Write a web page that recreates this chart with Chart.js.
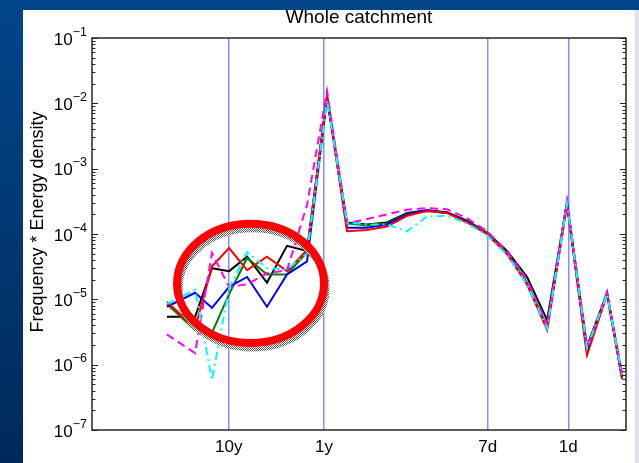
<!DOCTYPE html>
<html>
<head>
<meta charset="utf-8">
<script src="https://cdn.jsdelivr.net/npm/chart.js@4.4.1/dist/chart.umd.min.js"></script>
<style>
  html, body { margin: 0; padding: 0; }
  body {
    width: 639px; height: 463px; overflow: hidden; position: relative;
    background: linear-gradient(180deg, #02458a 0%, #013a74 45%, #00295a 100%);
  }
  #panel { position: absolute; left: 23px; top: 10px; width: 612px; height: 453px; background: #fff; }
  #edge { position: absolute; left: 635px; top: 10px; width: 5px; height: 453px; background: #dde5ef; }
  #chart { position: absolute; left: 0; top: 0; }
</style>
</head>
<body>
<div id="panel"></div>
<div id="edge"></div>
<canvas id="chart" width="639" height="463"></canvas>
<script>
// ── DATA ─────────────────────────────────────────────────────
// frequency in cycles per year
const freq = [0.0225, 0.0444, 0.0668, 0.101, 0.156, 0.252, 0.409, 0.664, 1.075, 1.74, 2.83, 4.58,
  7.43, 12.0, 19.5, 31.6, 51.3, 83.2, 135, 219, 354, 574, 931, 1337]

const black = [5.4e-6, 5.4e-6, 3.0e-5, 2.7e-5, 4.5e-5, 1.8e-5, 6.6e-5, 5.5e-5, 1.25e-2, 1.5e-4, 1.4e-4, 1.5e-4,
  2.1e-4, 2.3e-4, 2.15e-4, 1.6e-4, 1.05e-4, 5.5e-5, 2.2e-5, 4.8e-6, 3.0e-4, 1.9e-6, 1.25e-5, 7.0e-7]
const green = [8.5e-6, 3.4e-6, 3.1e-6, 1.2e-5, 4.3e-5, 2.4e-5, 2.4e-5, 5.3e-5, 1.25e-2, 1.45e-4, 1.35e-4, 1.45e-4,
  2.05e-4, 2.25e-4, 2.1e-4, 1.55e-4, 1.05e-4, 5.2e-5, 1.8e-5, 3.8e-6, 3.0e-4, 1.6e-6, 1.25e-5, 6.5e-7]
const blue = [7.7e-6, 1.26e-5, 7.4e-6, 1.55e-5, 2.2e-5, 7.7e-6, 2.4e-5, 3.8e-5, 1.2e-2, 1.25e-4, 1.25e-4, 1.4e-4,
  2.0e-4, 2.3e-4, 2.1e-4, 1.55e-4, 1.0e-4, 5.0e-5, 1.7e-5, 3.6e-6, 2.9e-4, 1.5e-6, 1.2e-5, 6.3e-7]
const red = [9.2e-6, 3.6e-6, 3.2e-5, 6.1e-5, 2.8e-5, 4.5e-5, 2.7e-5, 5.7e-5, 1.35e-2, 1.1e-4, 1.15e-4, 1.3e-4,
  1.9e-4, 2.25e-4, 2.1e-4, 1.5e-4, 1.0e-4, 5.0e-5, 1.7e-5, 3.4e-6, 2.8e-4, 1.4e-6, 1.2e-5, 6.0e-7]
const magenta = [2.9e-6, 1.5e-6, 5.1e-5, 1.55e-5, 1.7e-5, 2.5e-5, 2.8e-5, 2.8e-4, 1.55e-2, 1.45e-4, 1.7e-4, 2.0e-4,
  2.35e-4, 2.5e-4, 2.4e-4, 1.75e-4, 1.1e-4, 5.5e-5, 2.0e-5, 4.0e-6, 3.3e-4, 1.8e-6, 1.3e-5, 7.0e-7]
const cyan = [8.5e-6, 1.4e-5, 5.8e-7, 1.5e-5, 5.3e-5, 3.0e-5, 2.9e-5, 5.0e-5, 1.1e-2, 1.5e-4, 1.4e-4, 1.4e-4,
  1.1e-4, 1.85e-4, 1.9e-4, 1.45e-4, 9.5e-5, 4.8e-5, 1.7e-5, 3.6e-6, 2.9e-4, 1.8e-6, 1.2e-5, 7.0e-7]

// period markers (cycles per year) and their labels
const xTicks = [0.1, 1, 365.25 / 7, 365.25]
const xTickLabels = ['10y', '1y', '7d', '1d']
const yExponents = [-7, -6, -5, -4, -3, -2, -1]

// highlighted region (data coordinates)
const ringX = [0.0287, 1.0]
const ringY = [2.15e-6, 1.43e-4]

const FONT = '"Liberation Sans", Arial, Helvetica, sans-serif'

// ── OVERLAY: frame, ticks, labels, ring ──────────────────────
const overlay = {
  id: 'overlay',
  afterDatasetsDraw(chart) {
    const { ctx, chartArea: a, scales: { x, y } } = chart
    ctx.save()

    // red ring with halftone shadow
    const x0 = x.getPixelForValue(ringX[0]), x1 = x.getPixelForValue(ringX[1])
    const y0 = y.getPixelForValue(ringY[1]), y1 = y.getPixelForValue(ringY[0])
    const cx = (x0 + x1) / 2, cy = (y0 + y1) / 2, rx = (x1 - x0) / 2, ry = (y1 - y0) / 2
    const pc = document.createElement('canvas')
    pc.width = 2; pc.height = 2
    const p = pc.getContext('2d')
    p.fillStyle = '#fff'; p.fillRect(0, 0, 2, 2)
    p.fillStyle = '#555'; p.fillRect(0, 0, 1, 1); p.fillRect(1, 1, 1, 1)
    ctx.lineWidth = 7
    ctx.strokeStyle = ctx.createPattern(pc, 'repeat')
    ctx.beginPath(); ctx.ellipse(cx + 2, cy + 5, rx, ry, 0, 0, Math.PI * 2); ctx.stroke()
    ctx.lineWidth = 8
    ctx.strokeStyle = '#ff0000'
    ctx.beginPath(); ctx.ellipse(cx, cy, rx, ry, 0, 0, Math.PI * 2); ctx.stroke()

    // axes box
    ctx.strokeStyle = '#262626'
    ctx.lineWidth = 1.5
    ctx.strokeRect(a.left, a.top, a.right - a.left, a.bottom - a.top)

    // y ticks, inward on both sides
    ctx.lineWidth = 1
    ctx.beginPath()
    yExponents.forEach(e => {
      for (let m = 1; m <= 9; m++) {
        const v = m * Math.pow(10, e)
        if (v > 0.1 + 1e-12) break
        const py = Math.round(y.getPixelForValue(v)) + 0.5
        const len = m === 1 ? 6 : 3.5
        ctx.moveTo(a.left, py); ctx.lineTo(a.left + len, py)
        ctx.moveTo(a.right, py); ctx.lineTo(a.right - len, py)
      }
    })
    ctx.stroke()

    // y labels 10^n
    ctx.fillStyle = '#000'
    ctx.textBaseline = 'alphabetic'
    yExponents.forEach(e => {
      const py = y.getPixelForValue(Math.pow(10, e))
      const exp = '\u2212' + (-e)
      ctx.font = '12.5px ' + FONT
      const ew = ctx.measureText(exp).width
      ctx.textAlign = 'left'
      ctx.fillText(exp, a.left - 5 - ew, py - 2.5)
      ctx.font = '17px ' + FONT
      ctx.textAlign = 'right'
      ctx.fillText('10', a.left - 5 - ew, py + 6.5)
    })

    // x labels
    ctx.font = '17px ' + FONT
    ctx.textAlign = 'center'
    xTicks.forEach((v, i) => {
      ctx.fillText(xTickLabels[i], x.getPixelForValue(v), a.bottom + 22)
    })

    // title
    ctx.font = '19px ' + FONT
    ctx.fillText('Whole catchment', (a.left + a.right) / 2, 23)

    // y title
    ctx.translate(43, (a.top + a.bottom) / 2 - 12)
    ctx.rotate(-Math.PI / 2)
    ctx.font = '18px ' + FONT
    ctx.fillText('Frequency * Energy density', 0, 0)

    ctx.restore()
  }
}

// ── CHART ────────────────────────────────────────────────────
document.addEventListener('DOMContentLoaded', () => {
  const line = (vals, color, dash) => ({
    data: freq.map((f, i) => ({ x: f, y: vals[i] })),
    borderColor: color,
    borderWidth: 2,
    borderDash: dash || [],
    pointRadius: 0,
    tension: 0,
    fill: false
  })

  // first dataset is drawn on top
  const datasets = [
    line(cyan, '#00ffff', [8, 4, 2, 4]),
    line(magenta, '#ff00ff', [8, 5]),
    line(red, '#ff0000'),
    line(blue, '#0000ff'),
    line(green, '#008000'),
    line(black, '#000000')
  ]

  new Chart(document.getElementById('chart').getContext('2d'), {
    type: 'line',
    data: { datasets },
    options: {
      responsive: false,
      animation: false,
      layout: { padding: { left: 92, top: 38, right: 13, bottom: 33 } },
      plugins: { legend: { display: false }, tooltip: { enabled: false } },
      scales: {
        x: {
          type: 'logarithmic',
          min: 0.00368,
          max: 1472,
          afterBuildTicks: s => { s.ticks = xTicks.map(v => ({ value: v })) },
          afterFit: s => { s.height = 0 },
          ticks: { display: false },
          border: { display: false },
          grid: { color: '#8a8aff', lineWidth: 1.5, drawTicks: false }
        },
        y: {
          type: 'logarithmic',
          min: 1e-7,
          max: 1e-1,
          display: false
        }
      }
    },
    plugins: [overlay]
  })
})
</script>
</body>
</html>
